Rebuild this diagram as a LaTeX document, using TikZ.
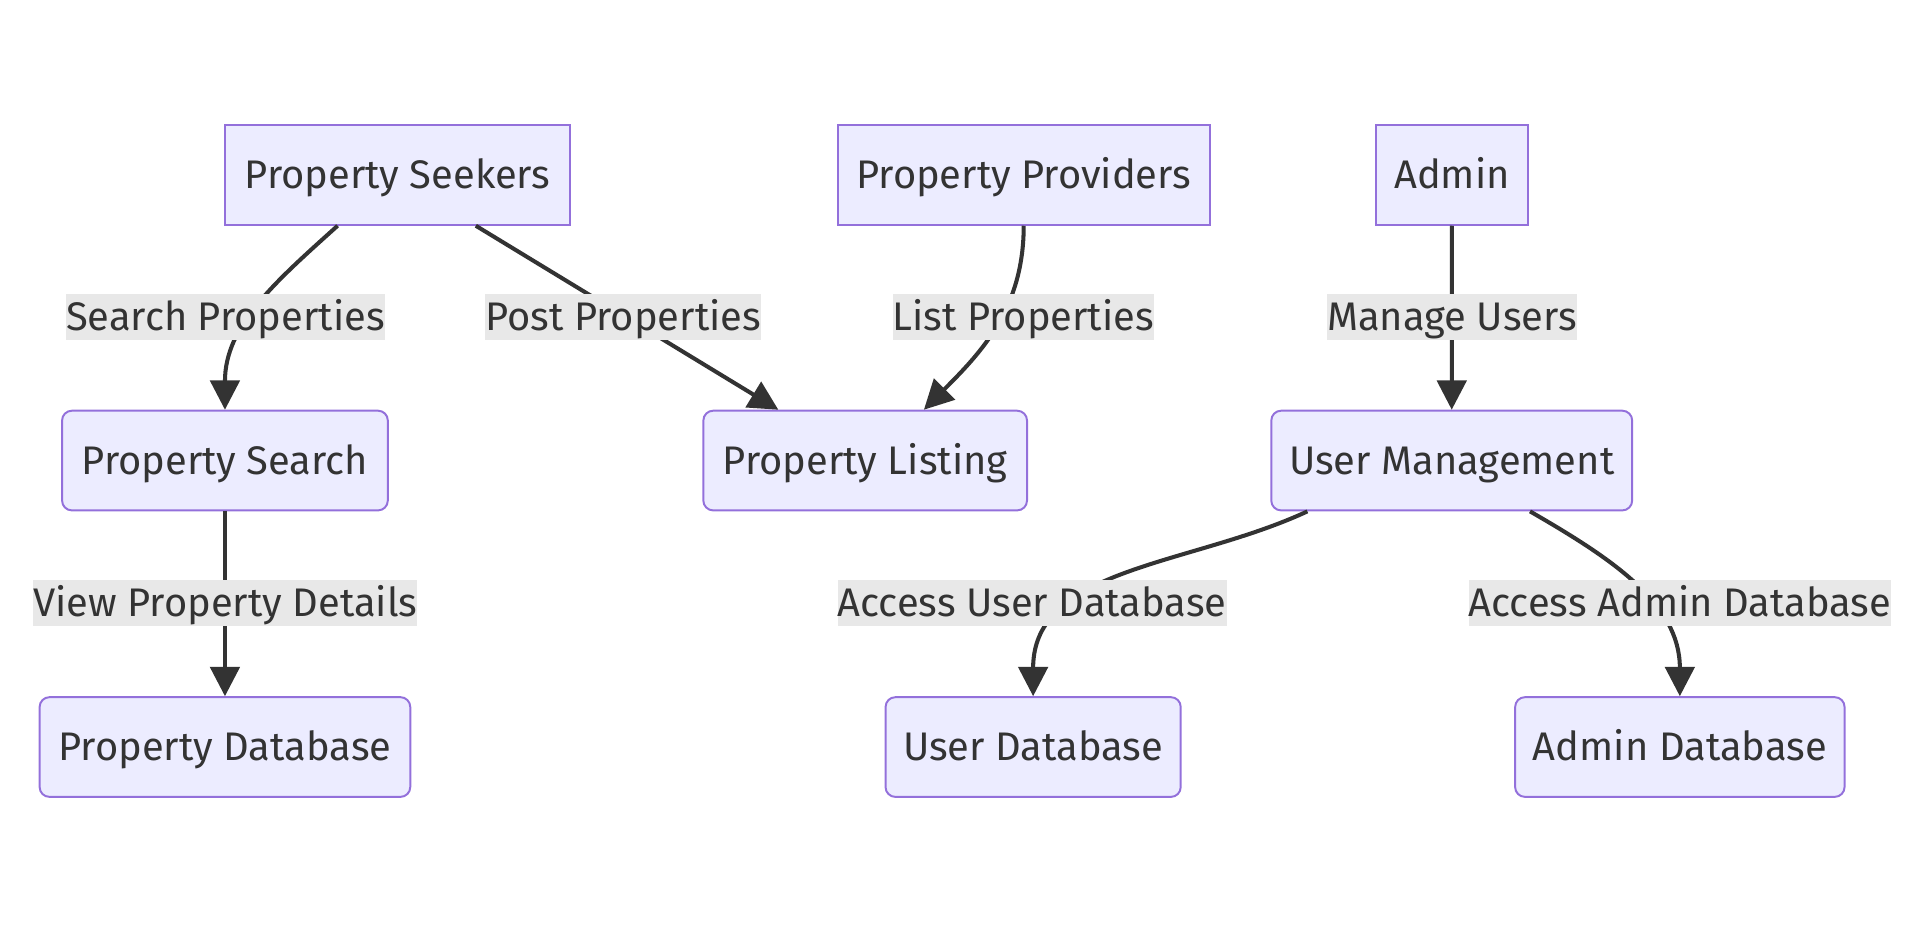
\documentclass[tikz,border=0pt]{standalone}
\usepackage{fontspec}
\setmainfont{Fira Sans}
\usetikzlibrary{arrows.meta,calc}
\definecolor{boxfill}{HTML}{ECECFF}
\definecolor{boxdraw}{HTML}{9370DB}
\definecolor{ink}{HTML}{333333}
\definecolor{lblfill}{HTML}{E8E8E8}
\begin{document}
\begin{tikzpicture}[x=1pt,y=1pt,
  txt/.style={text=ink, font=\fontsize{32.6}{39}\selectfont, text height=22.5pt, text depth=0pt},
  actor/.style={txt, draw=boxdraw, fill=boxfill, line width=1.6pt, minimum height=81.5pt, inner sep=0pt},
  proc/.style={actor, rounded corners=8pt},
  lbl/.style={txt, fill=lblfill, inner xsep=0pt, inner ysep=0pt, minimum height=37.7pt},
  edge/.style={draw=ink, line width=3.3pt, -{Triangle[length=24pt,width=24pt]}},
]
\useasboundingbox (0,0) rectangle (1568,-758);
% boxes
\node[actor, minimum width=281.6pt] (PS) at (325,-143) {Property Seekers};
\node[actor, minimum width=304pt] (PP) at (836.9,-143) {Property Providers};
\node[actor, minimum width=125pt] (AD) at (1187,-143) {Admin};
\node[proc, minimum width=266.3pt] (PSr) at (183.9,-376.5) {Property Search};
\node[proc, minimum width=264.6pt] (PL) at (707.3,-376.5) {Property Listing};
\node[proc, minimum width=295pt] (UM) at (1186.8,-376.5) {User Management};
\node[proc, minimum width=303pt] (PDB) at (183.9,-610.7) {Property Database};
\node[proc, minimum width=241.3pt] (UDB) at (844.6,-610.7) {User Database};
\node[proc, minimum width=269.3pt] (ADB) at (1373.3,-610.7) {Admin Database};
% edges
\draw[edge] ($(PS.south)+(-49,0)$) to[out=-138,in=90] (PSr.north);
\draw[edge] ($(PS.south)+(64,0)$) -- ($(PL.north)+(-71,0)$);
\draw[edge] (PP.south) to[out=-90,in=45] ($(PL.north)+(48,0)$);
\draw[edge] (AD.south) -- (UM.north);
\draw[edge] (PSr.south) -- (PDB.north);
\draw[edge] ($(UM.south)+(-118,0)$) to[out=-155,in=90] (UDB.north);
\draw[edge] ($(UM.south)+(64,0)$) to[out=-30,in=90] (ADB.north);
% labels
\node[lbl] (l1) at (184.2,-259.2) {Search Properties};
\node[lbl] (l2) at (509.5,-259.2) {Post Properties};
\node[lbl] (l3) at (836.5,-259.2) {List Properties};
\node[lbl] (l4) at (1187,-259.2) {Manage Users};
\node[lbl] (l5) at (184.2,-492.7) {View Property Details};
\node[lbl] (l6) at (843.8,-492.7) {Access User Database};
\node[lbl] (l7) at (1373.4,-492.7) {Access Admin Database};
\end{tikzpicture}
\end{document}
